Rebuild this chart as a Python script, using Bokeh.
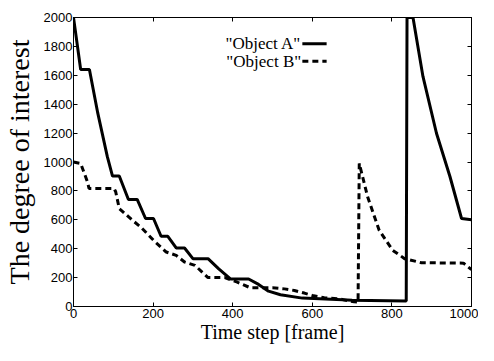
from bokeh.plotting import figure
from bokeh.models import LinearAxis, Label, Arrow, Range1d
from bokeh.embed import file_html
from bokeh.resources import INLINE

# Object A (solid)
a_x = [0, 18, 40, 61, 85, 98, 115, 138, 160, 181, 201, 220, 237, 258, 279, 300,
       338, 365, 395, 440, 465, 490, 520, 575, 676, 700, 836, 838, 840, 853,
       878, 912, 946, 975, 1000]
a_y = [2000, 1640, 1640, 1338, 1037, 903, 903, 741, 741, 609, 609, 486, 486, 405, 405, 331,
       331, 260, 190, 190, 153, 106, 81, 58, 46, 44, 38, 2000, 2000, 2000,
       1592, 1199, 898, 609, 600]

# Object B (dashed)
b_x = [0, 18, 35, 39, 102, 106, 115, 148, 170, 203, 233, 258, 279, 305, 338, 380,
       410, 444, 500, 530, 555, 580, 600, 630, 668, 705, 715, 718,
       739, 768, 802, 832, 874, 980, 1000]
b_y = [1000, 990, 863, 817, 817, 794, 678, 597, 547, 453, 377, 354, 308, 285, 200, 200,
       170, 130, 130, 122, 111, 93, 76, 60, 53, 32, 30, 990,
       759, 528, 389, 331, 303, 300, 255]

x_ticks = [0, 200, 400, 600, 800, 1000]
y_ticks = [0, 200, 400, 600, 800, 1000, 1200, 1400, 1600, 1800, 2000]

p = figure(width=478, height=345, output_backend="svg", toolbar_location=None,
           x_range=Range1d(0, 1000), y_range=Range1d(0, 2000),
           min_border_left=60, min_border_top=17, min_border_right=7, min_border_bottom=30)
p.grid.visible = False
p.background_fill_color = "white"
p.border_fill_color = "white"
p.outline_line_color = "black"
p.outline_line_width = 1
p.outline_line_alpha = 1

p.line(a_x, a_y, line_color="black", line_width=3)
p.line(b_x, b_y, line_color="black", line_width=3, line_dash="6 4")

def style(ax, labels=True):
    ax.axis_line_color = "black"
    ax.axis_line_width = 1
    ax.major_tick_in = 4
    ax.major_tick_out = 0
    ax.major_tick_line_color = "black"
    ax.minor_tick_line_color = None
    ax.major_label_text_font = "Liberation Sans"
    ax.major_label_text_font_size = "13px"
    ax.major_label_text_color = "black"
    ax.axis_label_text_font = "Liberation Serif"
    ax.axis_label_text_font_style = "normal"
    ax.axis_label_text_color = "black"
    if not labels:
        ax.major_label_text_font_size = "0px"
        ax.major_label_text_color = None
        ax.major_label_standoff = 0

p.xaxis.ticker = x_ticks
p.yaxis.ticker = y_ticks
style(p.xaxis[0])
style(p.yaxis[0])
p.xaxis.axis_label = "Time step [frame]"
p.yaxis.axis_label = "The degree of interest"
p.xaxis.axis_label_text_font_size = "20px"
p.yaxis.axis_label_text_font_size = "28px"
p.xaxis.major_label_standoff = 2
p.yaxis.major_label_standoff = 1
p.xaxis.axis_label_standoff = 0
p.yaxis.axis_label_standoff = 6

top = LinearAxis(ticker=x_ticks)
style(top, labels=False)
p.add_layout(top, "above")
right = LinearAxis(ticker=y_ticks)
style(right, labels=False)
p.add_layout(right, "right")

# legend (text left, sample right)
p.add_layout(Label(x=572, y=1819, text='"Object A"', text_align="right", text_baseline="middle",
                   text_font="Liberation Serif", text_font_size="17px", text_color="black"))
p.add_layout(Label(x=572, y=1698, text='"Object B"', text_align="right", text_baseline="middle",
                   text_font="Liberation Serif", text_font_size="17px", text_color="black"))
p.add_layout(Arrow(end=None, x_start=575, y_start=1819, x_end=636, y_end=1819,
                   line_color="black", line_width=3))
p.add_layout(Arrow(end=None, x_start=575, y_start=1698, x_end=636, y_end=1698,
                   line_color="black", line_width=3, line_dash="6 4"))

open("out.html", "w").write(file_html(p, INLINE))
